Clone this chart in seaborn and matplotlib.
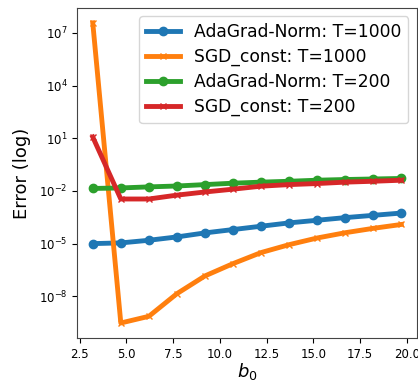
import numpy as np
import pandas as pd
import matplotlib
matplotlib.use("Agg")
import matplotlib.pyplot as plt
import seaborn as sns

b0 = [3.2, 4.7, 6.2, 7.7, 9.2, 10.7, 12.2, 13.7, 15.2, 16.7, 18.2, 19.7]
ada_1000_log = [-5.0, -4.96, -4.81, -4.62, -4.39, -4.2, -4.01, -3.82, -3.67, -3.52, -3.39, -3.26]
sgd_1000_log = [7.57, -9.52, -9.14, -7.85, -6.84, -6.14, -5.51, -5.06, -4.68, -4.38, -4.13, -3.91]
ada_200_log = [-1.86, -1.83, -1.77, -1.72, -1.64, -1.56, -1.5, -1.45, -1.39, -1.35, -1.32, -1.29]
sgd_200_log = [1.07, -2.46, -2.46, -2.24, -2.06, -1.9, -1.73, -1.64, -1.58, -1.5, -1.45, -1.39]

labels = ["AdaGrad-Norm: T=1000", "SGD_const: T=1000", "AdaGrad-Norm: T=200", "SGD_const: T=200"]
series = [ada_1000_log, sgd_1000_log, ada_200_log, sgd_200_log]
markers = ["o", "x", "o", "x"]
colors = sns.color_palette("tab10")[:4]

fig = plt.figure(figsize=(4.18, 3.83), dpi=100)
ax = fig.add_axes([0.185, 0.1175, 0.812, 0.862])

for lab, vals, mk, col in zip(labels, series, markers, colors):
    df = pd.DataFrame({"b0": b0, "err": np.power(10.0, vals)})
    sns.lineplot(data=df, x="b0", y="err", ax=ax, label=lab, color=col,
                 marker=mk, linewidth=3.5, markersize=6 if mk == "o" else 5,
                 markeredgecolor=col, markeredgewidth=1)

ax.set_yscale("log")
ax.minorticks_off()
ax.set_xticks([2.5, 5.0, 7.5, 10.0, 12.5, 15.0, 17.5, 20.0])
ax.set_xticklabels(["2.5", "5.0", "7.5", "10.0", "12.5", "15.0", "17.5", "20.0"])
ax.tick_params(labelsize=8.5)
for s in ax.spines.values():
    s.set_color("#444444")
ax.set_xlabel("$b_0$", fontsize=13, labelpad=0.5)
ax.set_ylabel("Error (log)", fontsize=13, labelpad=6)
ax.legend(loc="upper right", fontsize=12.3, labelspacing=0.4)
fig.savefig("out.png", dpi=100)
